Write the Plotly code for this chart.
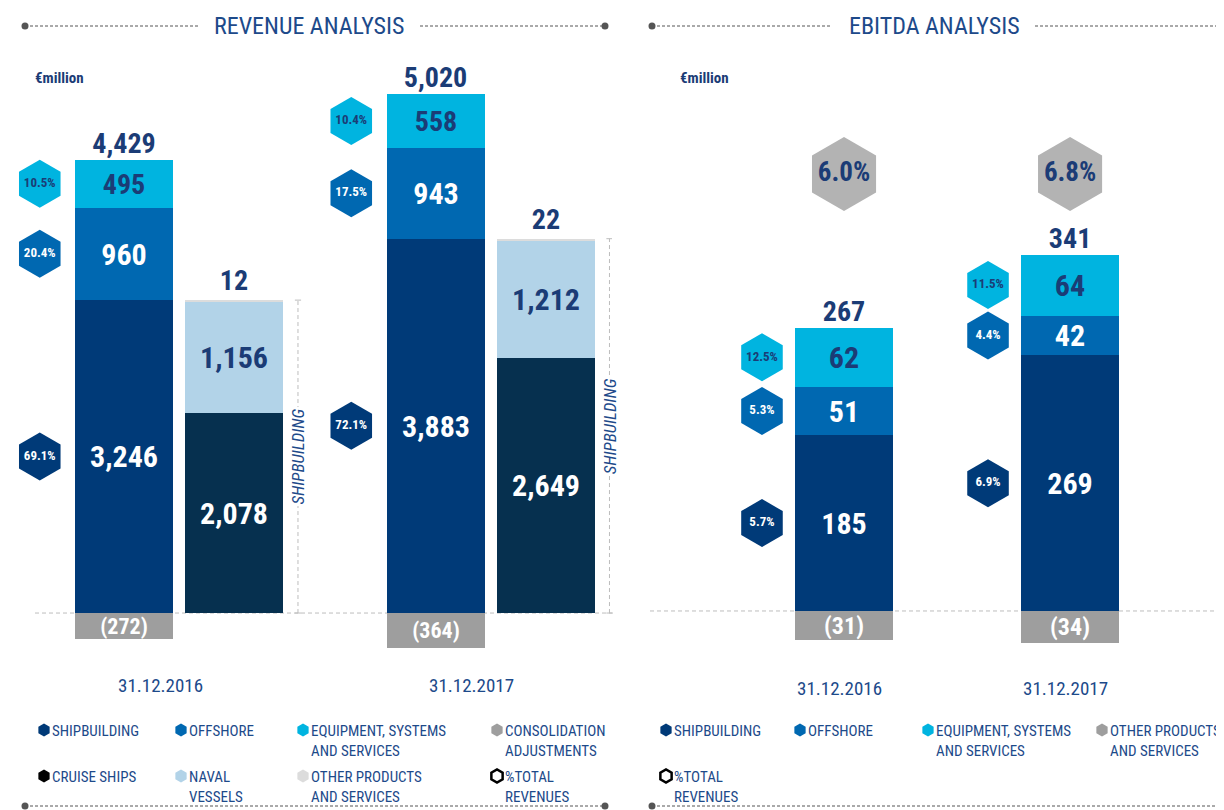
import plotly.graph_objects as go

YEARS = ["31.12.2016", "31.12.2017"]

# Revenue, €million
REV_SHIPBUILDING = [3246, 3883]
REV_OFFSHORE = [960, 943]
REV_EQUIPMENT = [495, 558]
REV_CONSOLIDATION = [-272, -364]
# shipbuilding breakdown
REV_CRUISE = [2078, 2649]
REV_NAVAL = [1156, 1212]
REV_OTHER = [12, 22]
# % of total revenues
REV_PCT_SHIPBUILDING = [69.1, 72.1]
REV_PCT_OFFSHORE = [20.4, 17.5]
REV_PCT_EQUIPMENT = [10.5, 10.4]

# EBITDA, €million
EB_SHIPBUILDING = [185, 269]
EB_OFFSHORE = [51, 42]
EB_EQUIPMENT = [62, 64]
EB_OTHER = [-31, -34]
# EBITDA margin %
EB_PCT_SHIPBUILDING = [5.7, 6.9]
EB_PCT_OFFSHORE = [5.3, 4.4]
EB_PCT_EQUIPMENT = [12.5, 11.5]
EB_PCT_TOTAL = [6.0, 6.8]

C_SHIP = "#003a78"
C_OFF = "#0068b1"
C_EQ = "#00b4e0"
C_CRUISE = "#06304f"
C_NAVAL = "#b2d3e8"
C_OTHER_LIGHT = "#dcdcdc"
C_GRAY = "#9e9e9e"
C_HEX_GRAY = "#b3b3b3"
C_TEXT = "#1d4a8a"
C_DARK = "#1b3c76"
C_LINE = "#555555"

NARROW = ("Noto Sans Condensed, Noto Sans ExtraCondensed, Liberation Sans Narrow, "
          "Roboto Condensed, Roboto, sans-serif")

# page has an 8px body margin; figure is laid out in reference pixel space
PAD = 8
W, H = 1224 - PAD, 810 - PAD


def px(x):
    return (x - PAD) / W


# revenue panel geometry (x units = one year group)
R_SUB = 0.1766
R_W = 0.3146
R_HEX = 0.447
# ebitda panel geometry
E_W = 0.4336
E_HEX = 0.363
E_TOTAL_HEX_Y = 460


def fmt(v):
    return f"({abs(v):,})" if v < 0 else f"{v:,}"


def bar(x, y, color, tcolor, width, ax, size=30, pos="inside"):
    return go.Bar(
        x=x, y=y, width=width,
        marker=dict(color=color, line_width=0),
        text=[fmt(v) for v in y], textposition=pos, insidetextanchor="middle",
        textangle=0, constraintext="none", cliponaxis=False,
        textfont=dict(family=NARROW, size=size, color=tcolor, weight="bold"),
        xaxis="x" + ax, yaxis="y" + ax, showlegend=False, hoverinfo="skip",
    )


def hexes(x, y, pct, color, tcolor, ax, size=48, fsize=13):
    return go.Scatter(
        x=x, y=y, mode="markers+text",
        marker=dict(symbol="hexagon", size=size, color=color, line_width=0),
        text=[f"{p:.1f}%" for p in pct], textposition="middle center",
        textfont=dict(family=NARROW, size=fsize, color=tcolor, weight="bold"),
        xaxis="x" + ax, yaxis="y" + ax, showlegend=False, hoverinfo="skip",
        cliponaxis=False,
    )


def mids(*stacks):
    # midpoints of each stacked segment, bottom to top
    out, base = [], [0] * len(stacks[0])
    for s in stacks:
        out.append([b + v / 2 for b, v in zip(base, s)])
        base = [b + v for b, v in zip(base, s)]
    return out


fig = go.Figure()
idx = list(range(len(YEARS)))

# ---- revenue ----
xa = [i - R_SUB for i in idx]
xb = [i + R_SUB for i in idx]
fig.add_trace(bar(xa, REV_SHIPBUILDING, C_SHIP, "white", R_W, ""))
fig.add_trace(bar(xa, REV_OFFSHORE, C_OFF, "white", R_W, ""))
fig.add_trace(bar(xa, REV_EQUIPMENT, C_EQ, C_DARK, R_W, "", size=28))
fig.add_trace(bar(xa, REV_CONSOLIDATION, C_GRAY, "white", R_W, "", size=22))
fig.add_trace(bar(xb, REV_CRUISE, C_CRUISE, "white", R_W, ""))
fig.add_trace(bar(xb, REV_NAVAL, C_NAVAL, C_DARK, R_W, ""))
fig.add_trace(bar(xb, REV_OTHER, C_OTHER_LIGHT, C_DARK, R_W, "", size=28, pos="outside"))

rev_pos = [a + b + c for a, b, c in zip(REV_SHIPBUILDING, REV_OFFSHORE, REV_EQUIPMENT)]
rev_tot = [p + c for p, c in zip(rev_pos, REV_CONSOLIDATION)]
fig.add_trace(go.Scatter(
    x=xa, y=rev_pos, mode="text", text=[fmt(v) for v in rev_tot], textposition="top center",
    textfont=dict(family=NARROW, size=28, color=C_DARK, weight="bold"),
    showlegend=False, hoverinfo="skip", cliponaxis=False))

m_ship, m_off, m_eq = mids(REV_SHIPBUILDING, REV_OFFSHORE, REV_EQUIPMENT)
hx = [i - R_HEX for i in idx]
fig.add_trace(hexes(hx, m_ship, REV_PCT_SHIPBUILDING, C_SHIP, "white", ""))
fig.add_trace(hexes(hx, m_off, REV_PCT_OFFSHORE, C_OFF, "white", ""))
fig.add_trace(hexes(hx, m_eq, REV_PCT_EQUIPMENT, C_EQ, C_DARK, ""))

# ---- ebitda ----
fig.add_trace(bar(idx, EB_SHIPBUILDING, C_SHIP, "white", E_W, "2"))
fig.add_trace(bar(idx, EB_OFFSHORE, C_OFF, "white", E_W, "2"))
fig.add_trace(bar(idx, EB_EQUIPMENT, C_EQ, C_DARK, E_W, "2"))
fig.add_trace(bar(idx, EB_OTHER, C_GRAY, "white", E_W, "2", size=24))

eb_pos = [a + b + c for a, b, c in zip(EB_SHIPBUILDING, EB_OFFSHORE, EB_EQUIPMENT)]
eb_tot = [p + c for p, c in zip(eb_pos, EB_OTHER)]
fig.add_trace(go.Scatter(
    x=idx, y=eb_pos, mode="text", text=[fmt(v) for v in eb_tot], textposition="top center",
    textfont=dict(family=NARROW, size=28, color=C_DARK, weight="bold"),
    xaxis="x2", yaxis="y2", showlegend=False, hoverinfo="skip", cliponaxis=False))

e_ship, e_off, e_eq = mids(EB_SHIPBUILDING, EB_OFFSHORE, EB_EQUIPMENT)
ex = [i - E_HEX for i in idx]
fig.add_trace(hexes(ex, e_ship, EB_PCT_SHIPBUILDING, C_SHIP, "white", "2"))
fig.add_trace(hexes(ex, e_off, EB_PCT_OFFSHORE, C_OFF, "white", "2"))
fig.add_trace(hexes(ex, e_eq, EB_PCT_EQUIPMENT, C_EQ, C_DARK, "2"))
fig.add_trace(hexes(idx, [E_TOTAL_HEX_Y] * len(idx), EB_PCT_TOTAL, C_HEX_GRAY, C_DARK, "2",
                    size=74, fsize=27))

# ---- decorations (pixel overlay axis x3/y3) ----
shapes, annotations = [], []


def dotted(x0, x1, y, dots=()):
    shapes.append(dict(type="line", xref="x3", yref="y3", x0=x0, x1=x1, y0=y, y1=y,
                       line=dict(color=C_LINE, width=1, dash="3px,2px")))
    for d in dots:
        shapes.append(dict(type="circle", xref="x3", yref="y3", x0=d - 3.5, x1=d + 3.5,
                           y0=y - 3.5, y1=y + 3.5, fillcolor=C_LINE, line_width=0))


dotted(25, 200, 26, dots=[25])
dotted(420, 605, 26, dots=[605])
dotted(652, 830, 26, dots=[652])
dotted(1035, 1224, 26)
dotted(25, 605, 806, dots=[25, 605])
dotted(652, 1224, 806, dots=[652])

for txt, x in [("REVENUE ANALYSIS", 309), ("EBITDA ANALYSIS", 934)]:
    annotations.append(dict(text=txt, xref="x3", yref="y3", x=x, y=26, showarrow=False,
                            font=dict(family=NARROW, size=24, color=C_TEXT)))
for x in (33, 678):
    annotations.append(dict(text="€million", xref="x3", yref="y3", x=x, y=78, xanchor="left",
                            showarrow=False,
                            font=dict(family=NARROW, size=15, color=C_DARK, weight="bold")))

# baselines
shapes.append(dict(type="line", xref="x3", yref="y", x0=35, x1=615, y0=0, y1=0, layer="below",
                   line=dict(color="#bdbdbd", width=1, dash="4px,3px")))
shapes.append(dict(type="line", xref="x3", yref="y2", x0=650, x1=1224, y0=0, y1=0, layer="below",
                   line=dict(color="#bdbdbd", width=1, dash="4px,3px")))

# shipbuilding brackets
for i in idx:
    bx = i + R_SUB + R_W / 2 + 0.048
    top = REV_CRUISE[i] + REV_NAVAL[i] + REV_OTHER[i]
    shapes.append(dict(type="line", xref="x", yref="y", x0=bx, x1=bx, y0=0, y1=top,
                       line=dict(color="#bdbdbd", width=1, dash="4px,3px")))
    for yy in (0, top):
        shapes.append(dict(type="line", xref="x", yref="y", x0=bx - 0.01, x1=bx + 0.01,
                           y0=yy, y1=yy, line=dict(color="#bdbdbd", width=1)))
    annotations.append(dict(text="SHIPBUILDING", xref="x", yref="y", x=bx, y=top / 2,
                            textangle=-90, showarrow=False, bgcolor="white",
                            font=dict(family=NARROW, size=17, color=C_TEXT, style="italic")))

# year labels
for i, yr in enumerate(YEARS):
    annotations.append(dict(text=yr, xref="x", yref="y3", x=i - 0.06, y=685, showarrow=False,
                            font=dict(family=NARROW, size=19, color=C_TEXT)))
    annotations.append(dict(text=yr, xref="x2", yref="y3", x=i - 0.02, y=688, showarrow=False,
                            font=dict(family=NARROW, size=19, color=C_TEXT)))

# legends
legend_items = [
    ("SHIPBUILDING", C_SHIP, 44, 730), ("OFFSHORE", C_OFF, 181, 730),
    ("EQUIPMENT, SYSTEMS<br>AND SERVICES", C_EQ, 303, 730),
    ("CONSOLIDATION<br>ADJUSTMENTS", C_GRAY, 497, 730),
    ("CRUISE SHIPS", "#000000", 44, 776), ("NAVAL<br>VESSELS", C_NAVAL, 181, 776),
    ("OTHER PRODUCTS<br>AND SERVICES", C_OTHER_LIGHT, 303, 776),
    ("%TOTAL<br>REVENUES", None, 497, 776),
    ("SHIPBUILDING", C_SHIP, 666, 730), ("OFFSHORE", C_OFF, 800, 730),
    ("EQUIPMENT, SYSTEMS<br>AND SERVICES", C_EQ, 928, 730),
    ("OTHER PRODUCTS<br>AND SERVICES", C_GRAY, 1102, 730),
    ("%TOTAL<br>REVENUES", None, 666, 776),
]
fig.add_trace(go.Scatter(
    x=[it[2] for it in legend_items], y=[it[3] for it in legend_items], mode="markers",
    marker=dict(symbol="hexagon", size=13,
                color=[it[1] or "white" for it in legend_items],
                line=dict(color=["black" if it[1] is None else "rgba(0,0,0,0)" for it in legend_items],
                          width=2.5)),
    xaxis="x3", yaxis="y3", showlegend=False, hoverinfo="skip", cliponaxis=False))
for txt, _, x, y in legend_items:
    annotations.append(dict(text=txt, xref="x3", yref="y3", x=x + 6, y=y - 10, xanchor="left",
                            yanchor="top", align="left", showarrow=False,
                            font=dict(family=NARROW, size=15, color=C_TEXT)))

hidden = dict(visible=False, showgrid=False, zeroline=False, fixedrange=True)
split = px(612)
fig.update_layout(
    width=W, height=H, margin=dict(l=0, r=0, t=0, b=0),
    paper_bgcolor="white", plot_bgcolor="rgba(0,0,0,0)",
    barmode="relative", bargap=0, showlegend=False,
    xaxis=dict(domain=[0, split], range=[-0.549, 1.390], anchor="y", **hidden),
    yaxis=dict(domain=[0, 1], range=[-2043, 6276], anchor="x", **hidden),
    xaxis2=dict(domain=[split, 1], range=[-1.0265, 1.681], anchor="y2", **hidden),
    yaxis2=dict(domain=[0, 1], range=[-209.5, 634.7], anchor="x2", **hidden),
    xaxis3=dict(domain=[0, 1], range=[PAD, 1224], anchor="y3", **hidden),
    yaxis3=dict(domain=[0, 1], range=[810, PAD], anchor="x3", **hidden),
    shapes=shapes, annotations=annotations,
)

fig.write_html("out.html")
